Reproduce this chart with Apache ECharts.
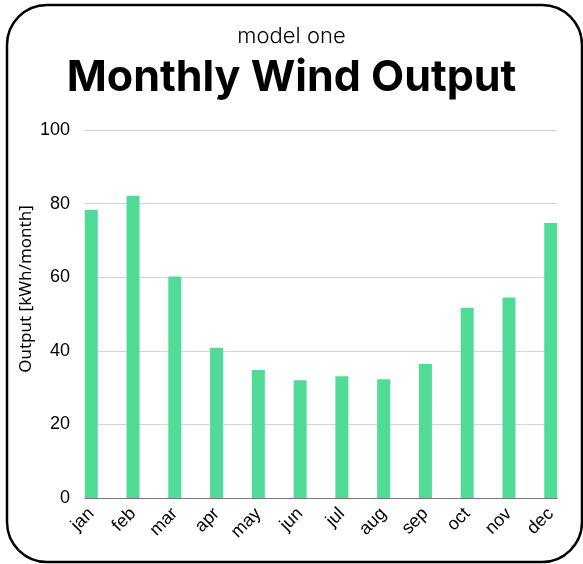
<!DOCTYPE html>
<html>
<head>
<meta charset="utf-8">
<script src="https://cdn.jsdelivr.net/npm/echarts@6/dist/echarts.min.js"></script>
<style>
  html, body { margin: 0; padding: 0; background: #fff; }
  #chart { width: 583px; height: 564px; }
</style>
</head>
<body>
<div id="chart"></div>
<script>
// data
var months = ['jan', 'feb', 'mar', 'apr', 'may', 'jun', 'jul', 'aug', 'sep', 'oct', 'nov', 'dec'];
var output = [78.3, 82.1, 60.2, 40.8, 34.8, 32.0, 33.1, 32.3, 36.4, 51.7, 54.5, 74.7];
var yTicks = [0, 20, 40, 60, 80, 100];

var myChart = echarts.init(document.getElementById('chart'));

var option = {
    backgroundColor: '#fff',
    animation: false,
    title: [
        {
            text: 'model one',
            left: 'center',
            top: 20,
            padding: [5, 0, 5, 8],
            textStyle: { fontFamily: 'Inter', fontWeight: 300, fontSize: 22, color: '#000' }
        },
        {
            text: 'Monthly Wind Output',
            left: 'center',
            top: 52,
            padding: [5, 0, 5, 8],
            textStyle: { fontFamily: 'Inter', fontWeight: 'bold', fontSize: 43, color: '#000' }
        }
    ],
    grid: { left: 85, right: 26, top: 130, bottom: 66 },
    xAxis: {
        type: 'value',
        min: -0.15,
        max: 11.15,
        splitLine: { show: false },
        axisTick: { show: false },
        axisLine: { show: true, lineStyle: { color: '#777', width: 1 } },
        axisLabel: {
            customValues: months.map(function (m, i) { return i; }),
            formatter: function (v) { return months[Math.round(v)]; },
            rotate: 45,
            margin: 13,
            padding: [14, 0, 0, 0],
            fontFamily: 'Liberation Sans',
            fontSize: 18,
            color: '#000'
        }
    },
    yAxis: {
        type: 'value',
        min: yTicks[0],
        max: yTicks[yTicks.length - 1],
        interval: 20,
        name: 'Output [kWh/month]',
        nameLocation: 'middle',
        nameGap: 50,
        nameMoveOverlap: false,
        nameTextStyle: { fontFamily: 'Noto Sans', fontSize: 17, color: '#000', padding: [0, 0, 0, 50] },
        axisLine: { show: false },
        axisTick: { show: false },
        splitLine: { lineStyle: { color: '#d4d4d4', width: 1 } },
        axisLabel: { margin: 15, fontFamily: 'Liberation Sans', fontSize: 18, color: '#000' }
    },
    series: [
        {
            type: 'bar',
            barWidth: 13,
            data: output.map(function (v, i) { return [i, v]; }),
            itemStyle: { color: '#50dc96' }
        }
    ],
    graphic: [
        {
            type: 'rect',
            shape: { x: 7, y: 5, width: 575, height: 557, r: 40 },
            style: { fill: null, stroke: '#000', lineWidth: 2.5 },
            silent: true
        }
    ]
};

myChart.setOption(option);
</script>
</body>
</html>
